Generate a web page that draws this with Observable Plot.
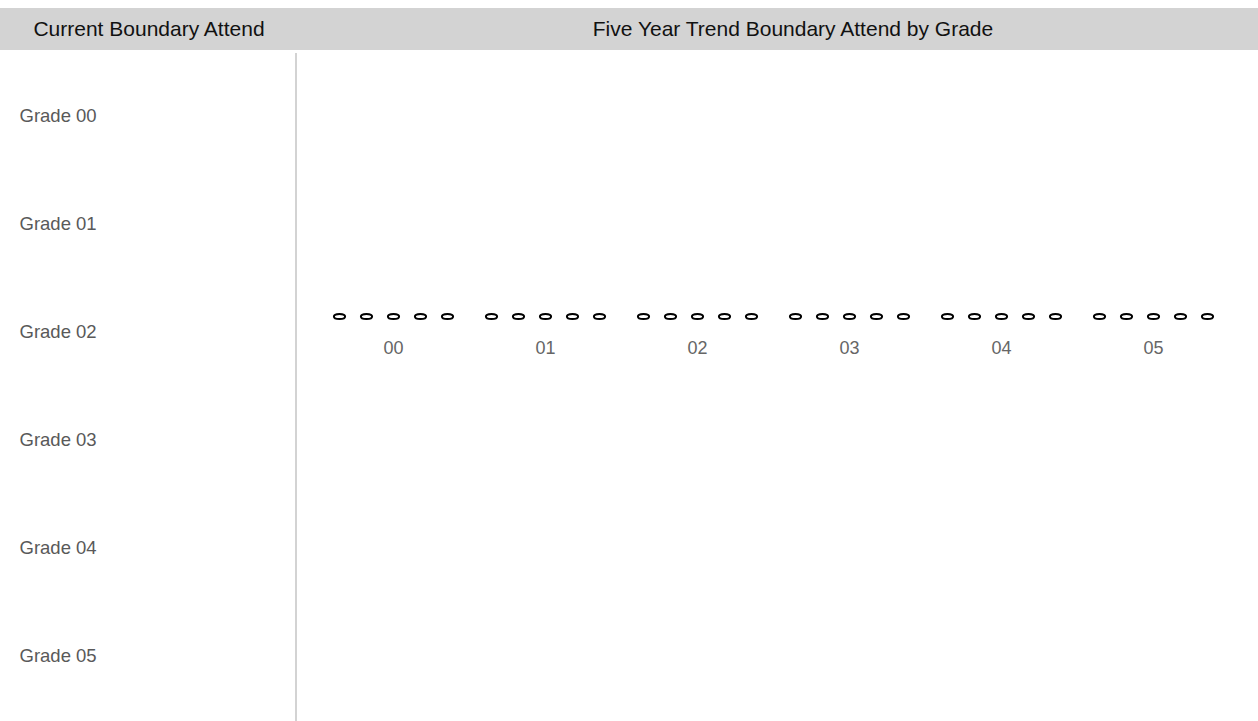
<!DOCTYPE html>
<html>
<head>
<meta charset="utf-8">
<script src="https://cdn.jsdelivr.net/npm/d3@7"></script>
<script src="https://cdn.jsdelivr.net/npm/@observablehq/plot@0.6"></script>
<style>
  html, body { margin: 0; padding: 0; background: #fff; }
  body { width: 1258px; height: 721px; position: relative; overflow: hidden; font-family: "Liberation Sans", Arial, sans-serif; }
  #header { position: absolute; left: 0; top: 8px; width: 1258px; height: 42px; background: #d3d3d3; }
  .htitle { position: absolute; top: 8px; height: 42px; line-height: 42px; font-size: 21px; color: #111; white-space: nowrap; transform: translateX(-50%); }
  #vline { position: absolute; left: 295px; top: 53px; width: 2px; height: 668px; background: #d3d3d3; }
  #left { position: absolute; left: 0; top: 50px; }
  #right { position: absolute; left: 298px; top: 50px; }
</style>
</head>
<body>
<div id="header"></div>
<div class="htitle" id="t1" style="left:149px">Current Boundary Attend</div>
<div class="htitle" id="t2" style="left:793px">Five Year Trend Boundary Attend by Grade</div>
<div id="vline"></div>
<div id="left"></div>
<div id="right"></div>
<script>
// ---- data ----
const grades = ["00", "01", "02", "03", "04", "05"];
const gradeLabels = ["Grade 00", "Grade 01", "Grade 02", "Grade 03", "Grade 04", "Grade 05"];
const years = ["2016", "2017", "2018", "2019", "2020"];
// boundary attend per grade (rows) and year (columns) as drawn: all on the same level
const attendByGrade = [
  [0, 0, 0, 0, 0],
  [0, 0, 0, 0, 0],
  [0, 0, 0, 0, 0],
  [0, 0, 0, 0, 0],
  [0, 0, 0, 0, 0],
  [0, 0, 0, 0, 0]
];

const rows = [];
grades.forEach((g, i) => years.forEach((y, j) => rows.push({grade: g, year: y, value: attendByGrade[i][j]})));

// ellipse symbol
const ellipse = {
  draw(ctx, size) {
    const rx = 5.6, ry = 2.6, k = 0.5523;
    ctx.moveTo(rx, 0);
    ctx.bezierCurveTo(rx, k * ry, k * rx, ry, 0, ry);
    ctx.bezierCurveTo(-k * rx, ry, -rx, k * ry, -rx, 0);
    ctx.bezierCurveTo(-rx, -k * ry, -k * rx, -ry, 0, -ry);
    ctx.bezierCurveTo(k * rx, -ry, rx, -k * ry, rx, 0);
    ctx.closePath();
  }
};

// ---- left panel ----
const left = Plot.plot({
  width: 296,
  height: 671,
  marginTop: 11,
  marginBottom: 10,
  marginLeft: 0,
  marginRight: 0,
  style: {fontFamily: "Liberation Sans, Arial, sans-serif", background: "transparent"},
  y: {domain: gradeLabels, axis: null},
  marks: [
    Plot.text(gradeLabels, {
      y: d => d, text: d => d,
      frameAnchor: "left", dx: 19, textAnchor: "start",
      fontSize: 18.5, fill: "#595959"
    })
  ]
});
document.getElementById("left").appendChild(left);

// ---- right panel ----
const right = Plot.plot({
  width: 960,
  height: 671,
  marginTop: 0,
  marginBottom: 139,
  marginLeft: 18,
  marginRight: 29,
  style: {fontFamily: "Liberation Sans, Arial, sans-serif", background: "transparent", overflow: "visible"},
  fx: {domain: grades, axis: null, padding: 0},
  x: {domain: years, axis: null, type: "point", padding: 0, inset: 22},
  y: {domain: [-1, 1], axis: null},
  marks: [
    Plot.dot(rows, {
      fx: "grade", x: "year", y: "value",
      symbol: ellipse, r: 4,
      fill: "white", stroke: "black", strokeWidth: 2
    }),
    Plot.text(grades, {
      fx: d => d, y: () => 0, text: d => d,
      dy: 32, fontSize: 18, fill: "#666"
    })
  ]
});
document.getElementById("right").appendChild(right);
</script>
</body>
</html>
